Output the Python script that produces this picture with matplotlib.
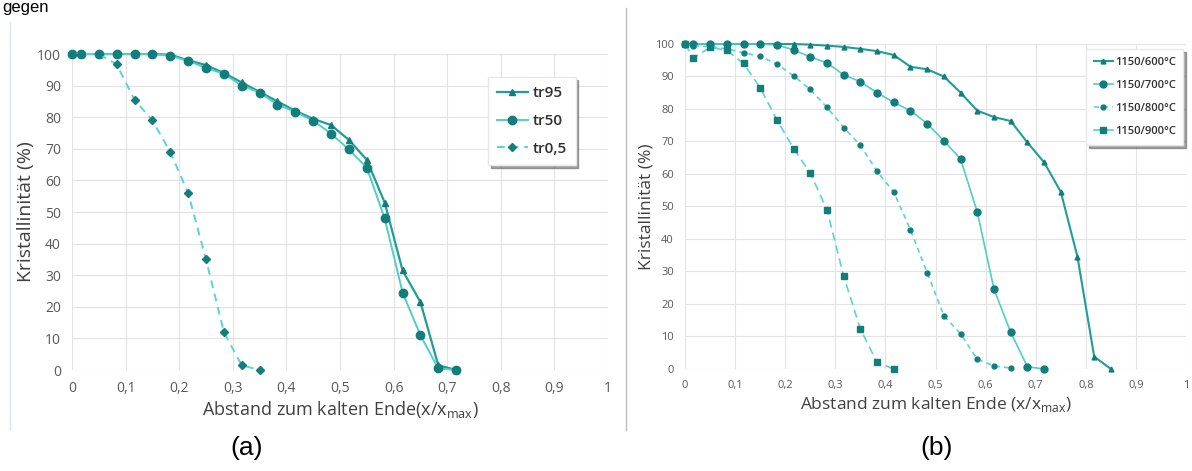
import matplotlib
matplotlib.use("Agg")
import matplotlib.pyplot as plt
from matplotlib.lines import Line2D

plt.rcParams['font.family'] = ['Open Sans', 'DejaVu Sans']

# ---- data (a) ----
xa_long = [0, 0.0167, 0.05, 0.0833, 0.1167, 0.15, 0.1833, 0.2167, 0.25, 0.2833, 0.3167, 0.35,
           0.3833, 0.4167, 0.45, 0.4833, 0.5167, 0.55, 0.5833, 0.6167, 0.65, 0.6833, 0.7167]
tr95 = [100, 100, 100, 100, 100, 100, 99.8, 98, 96.5, 94, 91, 88, 85, 82, 79.5, 77.5, 72.8,
        66.5, 53, 31.5, 21.5, 1.5, 0]
tr50 = [100, 100, 100, 100, 100, 100, 99.5, 97.8, 95.6, 93.7, 90, 87.8, 84, 81.7, 78.9, 74.8,
        69.8, 64, 48, 24.5, 11, 0.5, 0]
xa_short = [0, 0.0167, 0.05, 0.0833, 0.1167, 0.15, 0.1833, 0.2167, 0.25, 0.2833, 0.3167, 0.35]
tr05 = [100, 100, 100, 96.7, 85.5, 79, 69, 56, 35, 12, 1.5, 0]

# ---- data (b) ----
xb = [0, 0.0167, 0.05, 0.0833, 0.1167, 0.15, 0.1833, 0.2167, 0.25, 0.2833, 0.3167, 0.35,
      0.3833, 0.4167, 0.45, 0.4833, 0.5167, 0.55, 0.5833, 0.6167, 0.65, 0.6833, 0.7167,
      0.75, 0.7833, 0.8167, 0.85]
y600 = [100, 100, 100, 100, 100, 100, 100, 100, 99.8, 99.5, 99.1, 98.5, 97.8, 96.6, 93, 92.2,
        90, 85, 79.5, 77.5, 76.3, 69.7, 63.6, 54.5, 34.5, 3.8, 0]
y700 = [100, 100, 100, 100, 100, 100, 99.7, 98.2, 96, 94.2, 90.5, 88.4, 85, 82, 79.5, 75.5,
        70.2, 64.6, 48.3, 24.5, 11.3, 0.7, 0]
y800 = [100, 99.4, 99.2, 98.5, 97.3, 96.2, 93.8, 90.2, 86, 80.5, 74.3, 68.8, 60.8, 54.4, 42.8,
        29.6, 16.4, 10.8, 3, 0.9, 0.3]
y900 = [100, 95.7, 99, 98, 94, 86.5, 76.7, 67.8, 60.3, 49, 28.5, 12.3, 2, 0]

xticks = [0, 0.1, 0.2, 0.3, 0.4, 0.5, 0.6, 0.7, 0.8, 0.9, 1]
xticklabels = ['0', '0,1', '0,2', '0,3', '0,4', '0,5', '0,6', '0,7', '0,8', '0,9', '1']
yticks = [0, 10, 20, 30, 40, 50, 60, 70, 80, 90, 100]

C_DARK = '#1f9e96'
C_LIGHT = '#4fcfc6'
C_DASH = '#5ad3d8'
C_MARK = '#127d7a'
TICK_C = '#595959'
GRID_C = '#e3e3e3'

fig = plt.figure(figsize=(11.92, 4.71), dpi=100)


def style(ax, fs):
    ax.set_xlim(0, 1)
    ax.set_ylim(0, 100)
    ax.set_xticks(xticks)
    ax.set_xticklabels(xticklabels)
    ax.set_yticks(yticks)
    ax.grid(True, color=GRID_C, lw=0.8)
    ax.set_axisbelow(True)
    for s in ax.spines.values():
        s.set_visible(False)
    ax.tick_params(length=0, colors=TICK_C, labelsize=fs, pad=8)


# ---------- (a) ----------
ax1 = fig.add_axes([0.0604, 0.2144, 0.4497, 0.6709])
style(ax1, 10)
ax1.plot(xa_long, tr95, color=C_DARK, lw=1.6, marker='^', ms=4, mfc=C_MARK, mec=C_MARK,
         label='tr95', clip_on=False)
ax1.plot(xa_long, tr50, color=C_LIGHT, lw=1.4, marker='o', ms=6, mfc=C_MARK, mec=C_MARK,
         label='tr50', clip_on=False)
ax1.plot(xa_short, tr05, color=C_DASH, lw=1.4, ls=(0, (4, 3)), marker='D', ms=4, mfc=C_MARK,
         mec=C_MARK, label='tr0,5', clip_on=False)
ax1.set_ylabel('Kristallinität (%)', fontsize=14, color='#404040', labelpad=1)
ax1.set_xlabel('Abstand zum kalten Ende(x/x$_{\\mathregular{max}}$)', fontsize=13,
               color='#404040', labelpad=2)
leg1 = ax1.legend(loc='upper left', bbox_to_anchor=(0.776, 0.927), fontsize=11, frameon=True,
                  fancybox=False, shadow=True, labelspacing=0.9, handlelength=2.0,
                  borderpad=0.6, handletextpad=0.3, borderaxespad=0)
leg1.get_frame().set_edgecolor('#e8e8e8')
for t in leg1.get_texts():
    t.set_color('#303030')
    t.set_fontweight('semibold')

# ---------- (b) ----------
ax2 = fig.add_axes([0.5747, 0.2166, 0.4203, 0.690])
style(ax2, 8)
ax2.plot(xb, y600, color=C_DARK, lw=1.5, marker='^', ms=3.5, mfc=C_MARK, mec=C_MARK,
         clip_on=False)
ax2.plot(xb[:len(y700)], y700, color=C_LIGHT, lw=1.2, marker='o', ms=5, mfc=C_MARK, mec=C_MARK,
         clip_on=False)
ax2.plot(xb[:len(y800)], y800, color=C_DASH, lw=1.2, ls=(0, (3, 2.5)), marker='o', ms=3.5,
         mfc=C_MARK, mec=C_MARK, clip_on=False)
ax2.plot(xb[:len(y900)], y900, color=C_DASH, lw=1.2, ls=(0, (5, 3)), marker='s', ms=5,
         mfc=C_MARK, mec=C_MARK, clip_on=False)
ax2.set_ylabel('Kristallinität (%)', fontsize=12.5, color='#404040', labelpad=0)
ax2.set_xlabel('Abstand zum kalten Ende (x/x$_{\\mathregular{max}}$)', fontsize=12.5,
               color='#404040', labelpad=3)
handles = [
    Line2D([], [], color=C_DARK, lw=1.5, marker='^', ms=3.5, mfc=C_MARK, mec=C_MARK),
    Line2D([], [], color=C_LIGHT, lw=1.2, marker='o', ms=5, mfc=C_MARK, mec=C_MARK),
    Line2D([], [], color=C_DASH, lw=1.2, ls=(0, (3, 2.5)), marker='o', ms=3.5, mfc=C_MARK,
           mec=C_MARK),
    Line2D([], [], color=C_LIGHT, lw=1.2, marker='s', ms=5, mfc=C_MARK, mec=C_MARK),
]
leg2 = ax2.legend(handles, ['1150/600°C', '1150/700°C', '1150/800°C', '1150/900°C'],
                  loc='upper left', bbox_to_anchor=(0.80, 0.985), frameon=True,
                  prop={'size': 8, 'stretch': 'condensed', 'weight': 'semibold'},
                  fancybox=False, shadow=True, labelspacing=1.1, handlelength=1.7,
                  borderpad=0.7, handletextpad=0.2, borderaxespad=0)
leg2.get_frame().set_edgecolor('#e8e8e8')
for t in leg2.get_texts():
    t.set_color('#303030')

# panel decorations
fig.add_artist(Line2D([10 / 1192, 10 / 1192], [1 - 22 / 471, 1 - 430 / 471],
                      transform=fig.transFigure, color='#d6e8f2', lw=1))
fig.add_artist(Line2D([626 / 1192, 626 / 1192], [1 - 8 / 471, 1 - 430 / 471],
                      transform=fig.transFigure, color='#bdbdbd', lw=1))

fig.text(247 / 1192, 1 - 448 / 471, '(a)', fontsize=19, ha='center', va='center',
         family=['Liberation Sans', 'DejaVu Sans'])
fig.text(937 / 1192, 1 - 448 / 471, '(b)', fontsize=19, ha='center', va='center',
         family=['Liberation Sans', 'DejaVu Sans'])
fig.text(0.002, 0.999, 'gegen', fontsize=12, ha='left', va='top',
         family=['Liberation Sans', 'DejaVu Sans'])

fig.savefig('out.png', dpi=100)
